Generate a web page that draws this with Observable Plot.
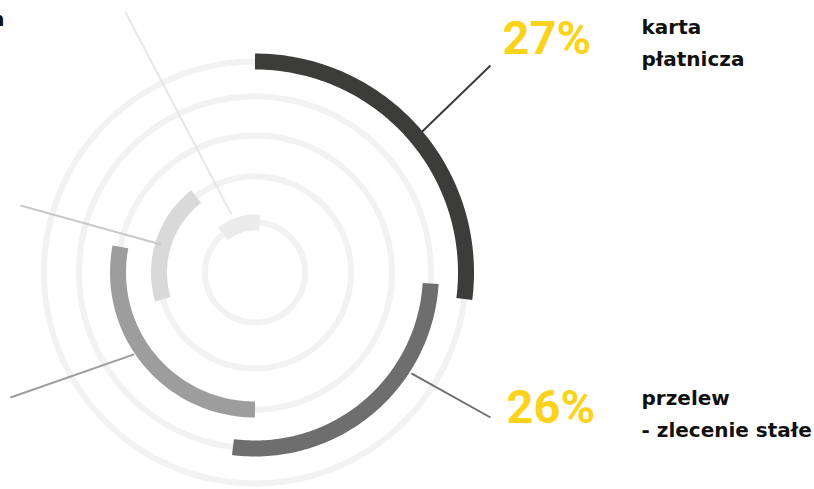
<!DOCTYPE html>
<html><head><meta charset="utf-8">
<script src="https://cdn.jsdelivr.net/npm/d3@7"></script>
<script src="https://cdn.jsdelivr.net/npm/@observablehq/plot@0.6"></script>
<style>html,body{margin:0;padding:0;background:#fff;overflow:hidden}</style>
</head><body><div id="chart"></div>
<script>
// ---- data ----
const categories = ["karta płatnicza", "przelew - zlecenie stałe", "seria 3", "seria 4", "seria 5"];
const values = [27, 26, 28, 19, 12.5];          // arc length, percent of full circle
const starts = [0, 26, 50, 70.5, 89];            // arc start, percent of full circle
const percentLabels = ["27%", "26%"];
const labelLines = [["karta", "płatnicza"], ["przelew", "- zlecenie stałe"]];
const cutLabel = "n";

// ---- layout / style ----
const W = 814, H = 489;
const cx = 254.5, cy = 272;
const radii = [211, 176, 137, 96, 50];
const arcColors = ["#3c3c3a", "#6e6e6e", "#9d9d9d", "#d9d9d9", "#ebebeb"];
const leaderColors = ["#3c3c3a", "#6e6e6e", "#9d9d9d", "#c9c9c9", "#e6e6e6"];
const trackColor = "#f2f2f2";
const leaderAngles = [49.9, 122.8, 235.9, 286.6, 337.9];
const leaderOffsets = [7, 10, 9, 2, 13];
const leaderEnds = [[490, 65], [490, 417], [10, 397], [20, 205], [125, 12]];
const pctPos = [[502, 53], [506, 422]];
const lblPos = [[641, 65], [641, 436]];
const yellow = "#fcd31c";

const rad = d => d * Math.PI / 180;
const polar = (r, deg) => ({x: r * Math.sin(rad(deg)), y: -r * Math.cos(rad(deg))});

const marks = [];
// tracks
radii.forEach((r, i) => {
  const pts = d3.range(0, 361, 1).map(a => polar(r, a));
  marks.push(Plot.line(pts, {x: "x", y: "y", stroke: trackColor, strokeWidth: 6, curve: "linear"}));
});
// arcs
categories.forEach((c, i) => {
  const a0 = starts[i] * 3.6, a1 = (starts[i] + values[i]) * 3.6;
  const n = Math.max(2, Math.ceil(a1 - a0));
  const pts = d3.range(n + 1).map(k => ({cat: c, ...polar(radii[i], a0 + (a1 - a0) * k / n)}));
  marks.push(Plot.line(pts, {x: "x", y: "y", stroke: arcColors[i], strokeWidth: 16, strokeLinecap: "butt", curve: "linear"}));
});
// leaders
categories.forEach((c, i) => {
  const p = polar(radii[i] + leaderOffsets[i], leaderAngles[i]);
  const e = leaderEnds[i];
  marks.push(Plot.link([{x1: p.x, y1: p.y, x2: e[0] - cx, y2: e[1] - cy}],
    {x1: "x1", y1: "y1", x2: "x2", y2: "y2", stroke: leaderColors[i], strokeWidth: 2}));
});
// percent labels
percentLabels.forEach((t, i) => {
  marks.push(Plot.text([t], {x: () => pctPos[i][0] - cx, y: () => pctPos[i][1] - cy, text: d => d,
    fill: yellow, fontSize: 47, fontWeight: 700, fontFamily: "Roboto", textAnchor: "start", lineAnchor: "bottom"}));
});
// category labels
labelLines.forEach((lines, i) => {
  marks.push(Plot.text([lines.join("\n")], {x: () => lblPos[i][0] - cx, y: () => lblPos[i][1] - cy, text: d => d,
    fill: "#111", fontSize: 20, fontWeight: 700, fontFamily: "DejaVu Sans", textAnchor: "start", lineAnchor: "bottom", lineHeight: 1.6}));
});
marks.push(Plot.text([cutLabel], {x: () => 4 - cx, y: () => 25 - cy, text: d => d,
  fill: "#111", fontSize: 20, fontWeight: 700, fontFamily: "DejaVu Sans", textAnchor: "end", lineAnchor: "bottom"}));

const chart = Plot.plot({
  width: W, height: H, margin: 0,
  x: {domain: [-cx, W - cx], range: [0, W], axis: null},
  y: {domain: [-cy, H - cy], range: [0, H], axis: null},
  style: {background: "#fff", overflow: "visible"},
  marks
});
document.getElementById("chart").appendChild(chart);
</script>
</body></html>
